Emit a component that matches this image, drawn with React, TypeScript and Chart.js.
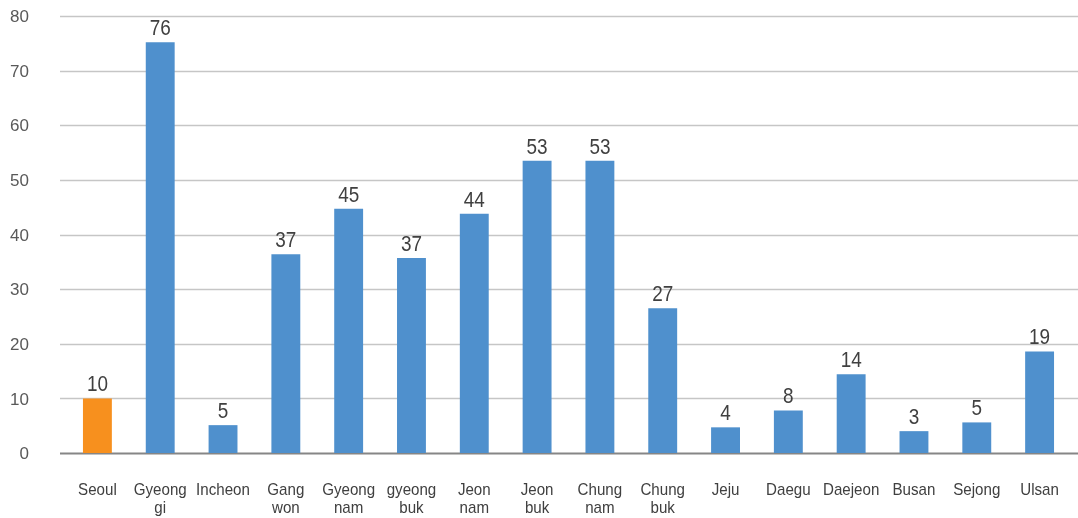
import React, { useEffect, useRef } from "react";
import { Chart, registerables } from "chart.js";

Chart.register(...registerables);

const categories: string[][] = [
  ["Seoul"], ["Gyeong", "gi"], ["Incheon"], ["Gang", "won"], ["Gyeong", "nam"], ["gyeong", "buk"],
  ["Jeon", "nam"], ["Jeon", "buk"], ["Chung", "nam"], ["Chung", "buk"], ["Jeju"], ["Daegu"],
  ["Daejeon"], ["Busan"], ["Sejong"], ["Ulsan"],
];
const barValues = [10.0, 75.2, 5.1, 36.4, 44.7, 35.7, 43.8, 53.5, 53.5, 26.5, 4.7, 7.8, 14.4, 4.0, 5.6, 18.6];
const valueLabels = ["10", "76", "5", "37", "45", "37", "44", "53", "53", "27", "4", "8", "14", "3", "5", "19"];
const highlightIndex = 0;
const yTicks = [0, 10, 20, 30, 40, 50, 60, 70, 80];

const BLUE = "#4F90CD";
const ORANGE = "#F7901E";
const FONT = "'Liberation Sans', Arial, sans-serif";

function drawSquished(ctx: any, text: string, x: number, y: number, sx: number) {
  ctx.save();
  ctx.translate(x, y);
  ctx.scale(sx, 1);
  ctx.fillText(text, 0, 0);
  ctx.restore();
}

const gridPlugin = {
  id: "extGrid",
  beforeDatasetsDraw(chart: any) {
    const { ctx, chartArea, scales } = chart;
    const y = scales.y;
    ctx.save();
    yTicks.forEach((v) => {
      const py = Math.round(y.getPixelForValue(v)) + 0.5;
      ctx.beginPath();
      if (v === 0) {
        ctx.strokeStyle = "#868686";
        ctx.lineWidth = 2;
      } else {
        ctx.strokeStyle = "#c6c6c6";
        ctx.lineWidth = 1.5;
      }
      ctx.moveTo(chartArea.left - 6, py);
      ctx.lineTo(chart.width, py);
      ctx.stroke();
    });
    ctx.restore();
  },
};

const textPlugin = {
  id: "texts",
  afterDatasetsDraw(chart: any) {
    const { ctx, scales } = chart;
    const meta = chart.getDatasetMeta(0);
    ctx.save();
    // value labels
    ctx.font = `22px ${FONT}`;
    ctx.fillStyle = "#404040";
    ctx.textAlign = "center";
    ctx.textBaseline = "alphabetic";
    meta.data.forEach((el: any, i: number) => {
      drawSquished(ctx, valueLabels[i], el.x, el.y - 7, 0.86);
    });
    // y tick labels
    ctx.font = `17px ${FONT}`;
    ctx.fillStyle = "#595959";
    ctx.textAlign = "right";
    ctx.textBaseline = "middle";
    yTicks.forEach((v) => {
      ctx.fillText(String(v), 29, scales.y.getPixelForValue(v) + 1.5);
    });
    // x category labels
    ctx.font = `17px ${FONT}`;
    ctx.fillStyle = "#404040";
    ctx.textAlign = "center";
    ctx.textBaseline = "alphabetic";
    const base = scales.x.bottom - 65;
    categories.forEach((lines, i) => {
      const cx = scales.x.getPixelForValue(i);
      lines.forEach((ln, j) => {
        drawSquished(ctx, ln, cx, base + 42 + j * 18, 0.89);
      });
    });
    ctx.restore();
  },
};

export default function App() {
  const ref = useRef<HTMLCanvasElement>(null);
  useEffect(() => {
    document.body.style.margin = "0";
    const chart = new Chart(ref.current!, {
      type: "bar",
      data: {
        labels: categories.map((c) => c.join(" ")),
        datasets: [
          {
            data: barValues,
            backgroundColor: barValues.map((_, i) => (i === highlightIndex ? ORANGE : BLUE)),
            categoryPercentage: 1,
            barPercentage: 0.46,
          },
        ],
      },
      options: {
        animation: false,
        responsive: false,
        maintainAspectRatio: false,
        layout: { padding: { top: 16, right: 7, left: 0, bottom: 0 } },
        plugins: { legend: { display: false }, tooltip: { enabled: false } },
        scales: {
          x: {
            grid: { display: false, drawTicks: false },
            border: { display: false },
            ticks: { display: false },
            afterFit(scale: any) {
              scale.height = 65;
            },
          },
          y: {
            min: 0,
            max: 80,
            grid: { display: false, drawTicks: false },
            border: { display: false },
            ticks: { display: false, stepSize: 10 },
            afterFit(scale: any) {
              scale.width = 66;
            },
          },
        },
      },
      plugins: [gridPlugin, textPlugin],
    });
    return () => chart.destroy();
  }, []);
  return <canvas ref={ref} width={1078} height={518} style={{ display: "block" }} />;
}
